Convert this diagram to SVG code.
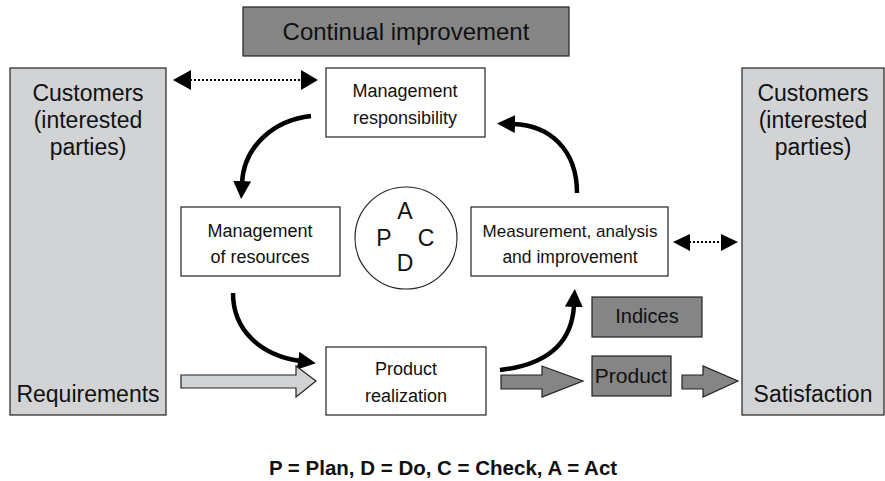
<svg xmlns="http://www.w3.org/2000/svg" width="885" height="481" viewBox="0 0 885 481">
<style>
text{font-family:"Liberation Sans",Arial,sans-serif;fill:#111;text-anchor:middle}
.box{fill:#fff;stroke:#222;stroke-width:1.2}
.lg{fill:#d2d3d5;stroke:#222;stroke-width:1.2}
.dg{fill:#858585;stroke:#222;stroke-width:1.2}
.big{font-size:23px}
.sm{font-size:18px}
.curve{fill:none;stroke:#000;stroke-width:4.5}
.dot{fill:none;stroke:#000;stroke-width:2;stroke-dasharray:2 2}
</style>
<defs>
<marker id="ah" markerUnits="userSpaceOnUse" markerWidth="20" markerHeight="20" viewBox="0 0 20 20" refX="2" refY="10" orient="auto">
<polygon points="0,1 18,10 0,19" fill="#000"/>
</marker>
</defs>
<g id="continual"><rect class="dg" x="243" y="7" width="326" height="49"/><text x="406" y="40" style="font-size:24px">Continual improvement</text></g>
<g id="customers-left"><rect class="lg" x="10" y="68" width="156" height="347"/>
<text class="big" x="88" y="101">Customers</text><text class="big" x="88" y="128">(interested</text><text class="big" x="88" y="155">parties)</text>
<text class="big" x="88" y="402">Requirements</text></g>
<g id="customers-right"><rect class="lg" x="742" y="68" width="142" height="347"/>
<text class="big" x="813" y="101">Customers</text><text class="big" x="813" y="128">(interested</text><text class="big" x="813" y="155">parties)</text>
<text class="big" x="813" y="402">Satisfaction</text></g>
<g id="mgmt-resp"><rect class="box" x="326" y="68" width="159" height="69"/><text class="sm" x="405" y="97">Management</text><text class="sm" x="405" y="124">responsibility</text></g>
<g id="mgmt-res"><rect class="box" x="181" y="207" width="159" height="69"/><text class="sm" x="260" y="237">Management</text><text class="sm" x="260" y="263">of resources</text></g>
<g id="pdca"><circle cx="406" cy="238" r="51" fill="#fff" stroke="#222" stroke-width="1.2"/>
<text x="405" y="219" style="font-size:23px">A</text><text x="384" y="246" style="font-size:23px">P</text><text x="426" y="246" style="font-size:23px">C</text><text x="405" y="271" style="font-size:23px">D</text></g>
<g id="measurement"><rect class="box" x="471" y="207" width="197" height="69"/><text x="570" y="237" style="font-size:17px">Measurement, analysis</text><text x="570" y="263" style="font-size:17.5px">and improvement</text></g>
<g id="indices"><rect class="dg" x="592" y="297" width="110" height="40"/><text x="647" y="323" style="font-size:20px">Indices</text></g>
<g id="product"><rect class="dg" x="592" y="356" width="79" height="40"/><text x="631" y="383" style="font-size:21px">Product</text></g>
<g id="realization"><rect class="box" x="326" y="347" width="160" height="68"/><text class="sm" x="406" y="375">Product</text><text class="sm" x="406" y="402">realization</text></g>
<g id="connectors">
<path class="curve" d="M311,116 C275,120 244,145 242,183" marker-end="url(#ah)"/>
<path class="curve" d="M233,293 C233,330 260,355 300,361" marker-end="url(#ah)"/>
<path class="curve" d="M500,370 C545,365 572,345 574,305" marker-end="url(#ah)"/>
<path class="curve" d="M577,193 C577,150 550,125 513,124" marker-end="url(#ah)"/>
<line class="dot" x1="190" y1="80" x2="302" y2="80"/>
<polygon points="173,80 191,70 191,90" fill="#000"/>
<polygon points="318,80 301,70 301,90" fill="#000"/>
<line class="dot" x1="689" y1="242" x2="722" y2="242"/>
<polygon points="673,242 690,234 690,251" fill="#000"/>
<polygon points="738,242 721,234 721,251" fill="#000"/>
<polygon class="lg" points="181,375 296,375 296,366 316,381 296,397 296,388 181,388"/>
<polygon class="dg" points="501,375 542,375 542,366 583,381 542,397 542,389 501,389"/>
<polygon class="dg" points="682,375 703,375 703,366 738,381 703,397 703,389 682,389"/>
</g>
<text x="443" y="475" style="font-size:20.5px;font-weight:bold">P = Plan, D = Do, C = Check, A = Act</text>
</svg>
